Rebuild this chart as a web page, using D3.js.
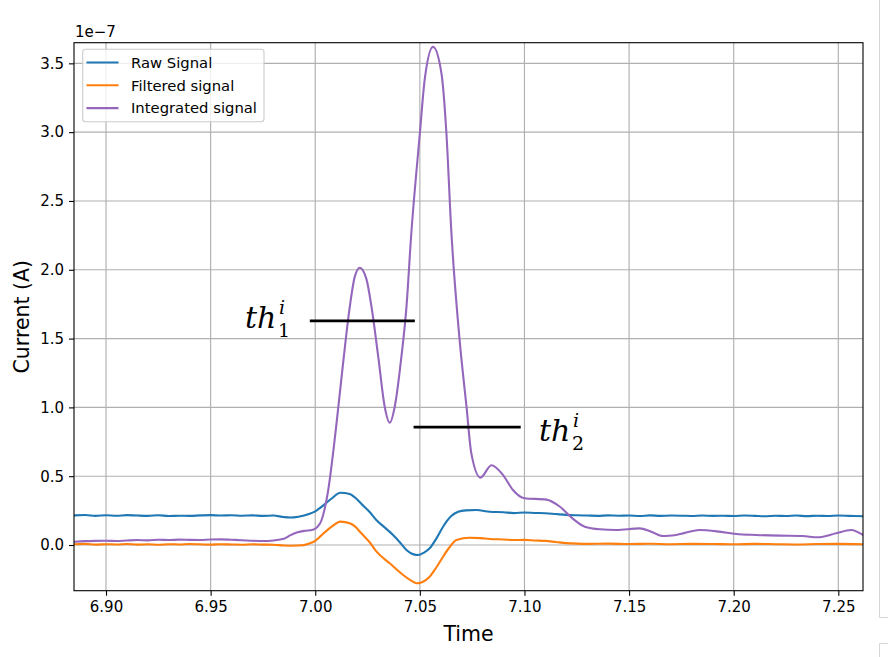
<!DOCTYPE html>
<html>
<head>
<meta charset="utf-8">
<script src="https://cdn.jsdelivr.net/npm/d3@7"></script>
<style>
  html, body { margin: 0; padding: 0; background: #fff; }
  svg { display: block; }
  text { font-family: "DejaVu Sans", sans-serif; fill: #000; }
</style>
</head>
<body>
<svg id="chart" width="888" height="657"></svg>
<script>
// ---- data (current values in units of 1e-7 A) ----
const rawSignal = [
  [6.885,0.215],[6.89,0.218],[6.895,0.212],[6.90,0.216],[6.905,0.213],[6.91,0.217],[6.915,0.214],
  [6.92,0.212],[6.925,0.216],[6.93,0.211],[6.935,0.213],[6.94,0.212],[6.945,0.215],[6.95,0.217],
  [6.955,0.214],[6.96,0.216],[6.965,0.213],[6.97,0.215],[6.975,0.212],[6.98,0.214],[6.985,0.203],
  [6.988,0.200],[6.992,0.206],[6.997,0.225],[7.000,0.245],[7.004,0.29],[7.008,0.34],[7.012,0.38],
  [7.0165,0.37],[7.019,0.345],[7.022,0.30],[7.026,0.24],[7.0293,0.18],[7.033,0.13],[7.0372,0.073],
  [7.041,0.01],[7.0436,-0.036],[7.047,-0.068],[7.0492,-0.073],[7.052,-0.055],[7.0547,-0.024],
  [7.058,0.05],[7.0611,0.133],[7.065,0.21],[7.0683,0.242],[7.072,0.252],[7.077,0.254],[7.0834,0.242],
  [7.09,0.238],[7.095,0.232],[7.10,0.236],[7.105,0.233],[7.11,0.231],[7.115,0.225],[7.12,0.219],
  [7.125,0.216],[7.13,0.214],[7.135,0.212],[7.14,0.215],[7.145,0.213],[7.15,0.214],[7.155,0.211],
  [7.16,0.215],[7.165,0.212],[7.17,0.214],[7.175,0.213],[7.18,0.211],[7.185,0.214],[7.19,0.212],
  [7.195,0.213],[7.20,0.211],[7.205,0.214],[7.21,0.212],[7.215,0.209],[7.22,0.213],[7.225,0.211],
  [7.23,0.214],[7.235,0.210],[7.24,0.213],[7.245,0.211],[7.25,0.214],[7.255,0.212],[7.2618,0.209]
];
const filteredSignal = [
  [6.885,0.005],[6.89,0.008],[6.895,0.003],[6.90,0.006],[6.905,0.004],[6.91,0.007],[6.915,0.003],
  [6.92,0.005],[6.925,0.002],[6.93,0.006],[6.935,0.004],[6.94,0.007],[6.945,0.005],[6.95,0.003],
  [6.955,0.006],[6.96,0.004],[6.965,0.002],[6.97,0.005],[6.975,0.003],[6.98,0.002],[6.985,-0.004],
  [6.988,-0.005],[6.992,-0.004],[6.997,0.01],[7.000,0.03],[7.004,0.085],[7.008,0.135],[7.012,0.17],
  [7.0165,0.158],[7.019,0.135],[7.022,0.085],[7.026,0.02],[7.0293,-0.048],[7.0356,-0.133],
  [7.042,-0.218],[7.046,-0.26],[7.0484,-0.278],[7.051,-0.27],[7.0547,-0.23],[7.058,-0.16],
  [7.0611,-0.085],[7.064,-0.02],[7.0675,0.036],[7.0738,0.053],[7.079,0.05],[7.0834,0.044],
  [7.09,0.04],[7.095,0.036],[7.10,0.037],[7.105,0.033],[7.11,0.030],[7.115,0.022],[7.12,0.014],
  [7.125,0.010],[7.13,0.008],[7.14,0.01],[7.15,0.007],[7.16,0.009],[7.17,0.006],[7.18,0.008],
  [7.19,0.007],[7.20,0.005],[7.21,0.008],[7.22,0.006],[7.23,0.004],[7.24,0.007],[7.25,0.008],[7.2618,0.005]
];
const integratedSignal = [
  [6.885,0.024],[6.89,0.028],[6.895,0.03],[6.90,0.031],[6.905,0.029],[6.91,0.033],[6.915,0.036],
  [6.92,0.034],[6.925,0.038],[6.93,0.036],[6.935,0.039],[6.94,0.037],[6.945,0.036],[6.95,0.040],
  [6.955,0.041],[6.96,0.038],[6.965,0.035],[6.97,0.031],[6.975,0.029],[6.98,0.033],[6.985,0.045],
  [6.988,0.07],[6.9915,0.092],[6.995,0.103],[6.9985,0.109],[7.001,0.13],[7.003,0.18],[7.006,0.38],
  [7.010,0.86],[7.0133,1.32],[7.0165,1.73],[7.0189,1.95],[7.0213,2.015],[7.0245,1.93],[7.0269,1.73],
  [7.0301,1.37],[7.0332,1.005],[7.0356,0.889],[7.038,1.005],[7.0412,1.37],[7.0436,1.73],[7.0458,2.24],
  [7.05,2.99],[7.0523,3.38],[7.0563,3.62],[7.0603,3.43],[7.0627,2.99],[7.065,2.29],[7.069,1.49],
  [7.0723,1.005],[7.0746,0.666],[7.079,0.49],[7.0842,0.58],[7.0897,0.51],[7.0945,0.40],[7.100,0.34],
  [7.1105,0.33],[7.1168,0.28],[7.1232,0.19],[7.1288,0.133],[7.136,0.114],[7.1439,0.109],[7.155,0.121],
  [7.1606,0.097],[7.1662,0.065],[7.1725,0.073],[7.1837,0.109],[7.1932,0.097],[7.2012,0.08],
  [7.2107,0.073],[7.2219,0.068],[7.233,0.065],[7.2402,0.056],[7.2489,0.085],[7.2561,0.109],[7.2618,0.073]
];
const thresholds = [
  { name: "1", value: 1.628, t0: 6.9974, t1: 7.0476 },
  { name: "2", value: 0.857, t0: 7.0470, t1: 7.0982 }
];
const xTicks = [6.90, 6.95, 7.00, 7.05, 7.10, 7.15, 7.20, 7.25];
const yTicks = [0.0, 0.5, 1.0, 1.5, 2.0, 2.5, 3.0, 3.5];
const seriesNames = ["Raw Signal", "Filtered signal", "Integrated signal"];
const seriesColors = ["#1f77b4", "#ff7f0e", "#9467bd"];

// ---- layout ----
const L = 74, R = 863, T = 42.7, B = 590.7;
const svg = d3.select("#chart");
const x = d3.scaleLinear().domain([6.8847, 7.2618]).range([L, R]);
const y = d3.scaleLinear().domain([-0.332, 3.65]).range([B, T]);

svg.append("defs").append("clipPath").attr("id", "clip")
  .append("rect").attr("x", L).attr("y", T).attr("width", R - L).attr("height", B - T);

// notebook frame decoration on the right
const deco = svg.append("g").attr("stroke", "#d6d6d6").attr("fill", "none").attr("stroke-width", 1);
deco.append("path").attr("d", "M879.5,0V617.5H888");
deco.append("path").attr("d", "M888,643.5H879.5V657");

// grid
const grid = svg.append("g").attr("stroke", "#b0b0b0").attr("stroke-width", 1.15);
grid.selectAll(".gx").data(xTicks).join("line")
  .attr("x1", d => x(d)).attr("x2", d => x(d)).attr("y1", T).attr("y2", B);
grid.selectAll(".gy").data(yTicks).join("line")
  .attr("y1", d => y(d)).attr("y2", d => y(d)).attr("x1", L).attr("x2", R);

// lines
const line = d3.line().x(d => x(d[0])).y(d => y(d[1])).curve(d3.curveMonotoneX);
const plot = svg.append("g").attr("clip-path", "url(#clip)");
[rawSignal, filteredSignal, integratedSignal].forEach((s, i) => {
  plot.append("path").datum(s).attr("d", line)
    .attr("fill", "none").attr("stroke", seriesColors[i])
    .attr("stroke-width", 2.1).attr("stroke-linejoin", "round").attr("stroke-linecap", "square");
});

// thresholds
plot.selectAll(".th").data(thresholds).join("line")
  .attr("x1", d => x(d.t0)).attr("x2", d => x(d.t1))
  .attr("y1", d => y(d.value)).attr("y2", d => y(d.value))
  .attr("stroke", "#000").attr("stroke-width", 2.8);

// threshold labels
function thLabel(xp, yb, sub) {
  const g = svg.append("g").style("font-family", "'DejaVu Serif', serif").style("font-style", "italic");
  g.append("text").attr("x", xp).attr("y", yb).style("font-size", "30px")
    .style("font-family", "'DejaVu Serif', serif").text("th");
  g.append("text").attr("x", xp + 34).attr("y", yb - 14).style("font-size", "19px")
    .style("font-family", "'DejaVu Serif', serif").text("i");
  g.append("text").attr("x", xp + 33).attr("y", yb + 9).style("font-size", "19px")
    .style("font-family", "'DejaVu Serif', serif").style("font-style", "normal").text(sub);
}
thLabel(245, 328, thresholds[0].name);
thLabel(539, 441, thresholds[1].name);

// axes
const xAxis = svg.append("g").attr("transform", `translate(0,${B})`)
  .call(d3.axisBottom(x).tickValues(xTicks).tickFormat(d3.format(".2f")).tickSize(5).tickPadding(5));
const yAxis = svg.append("g").attr("transform", `translate(${L},0)`)
  .call(d3.axisLeft(y).tickValues(yTicks).tickFormat(d3.format(".1f")).tickSize(5).tickPadding(5));
[xAxis, yAxis].forEach(a => {
  a.select(".domain").remove();
  a.selectAll(".tick line").attr("stroke", "#000").attr("stroke-width", 1.1);
  a.selectAll(".tick text").style("font-size", "15px").style("font-family", "'DejaVu Sans', sans-serif").attr("fill", "#222");
});
xAxis.selectAll(".tick text").attr("dy", "0.76em");

// spines
svg.append("rect").attr("x", L).attr("y", T).attr("width", R - L).attr("height", B - T)
  .attr("fill", "none").attr("stroke", "#000").attr("stroke-width", 1.1);

// offset text and labels
svg.append("text").attr("x", 75).attr("y", 37).style("font-size", "15px").attr("fill", "#222").text("1e\u22127");
svg.append("text").attr("x", (L + R) / 2).attr("y", 641).attr("text-anchor", "middle")
  .style("font-size", "20.5px").text("Time");
svg.append("text").attr("transform", `translate(29,${(T + B) / 2}) rotate(-90)`)
  .attr("text-anchor", "middle").style("font-size", "20.5px").text("Current (A)");

// legend
const lg = svg.append("g");
lg.append("rect").attr("x", 82.7).attr("y", 49.3).attr("width", 181.3).attr("height", 72.4)
  .attr("rx", 3).attr("fill", "#fff").attr("fill-opacity", 0.8).attr("stroke", "#cccccc").attr("stroke-width", 1.1);
seriesNames.forEach((n, i) => {
  const yy = 62.5 + i * 22.8;
  lg.append("line").attr("x1", 86.5).attr("x2", 118.5).attr("y1", yy).attr("y2", yy)
    .attr("stroke", seriesColors[i]).attr("stroke-width", 2.1);
  lg.append("text").attr("x", 131).attr("y", yy + 5.3).style("font-size", "14.8px").attr("fill", "#222").text(n);
});
</script>
</body>
</html>
